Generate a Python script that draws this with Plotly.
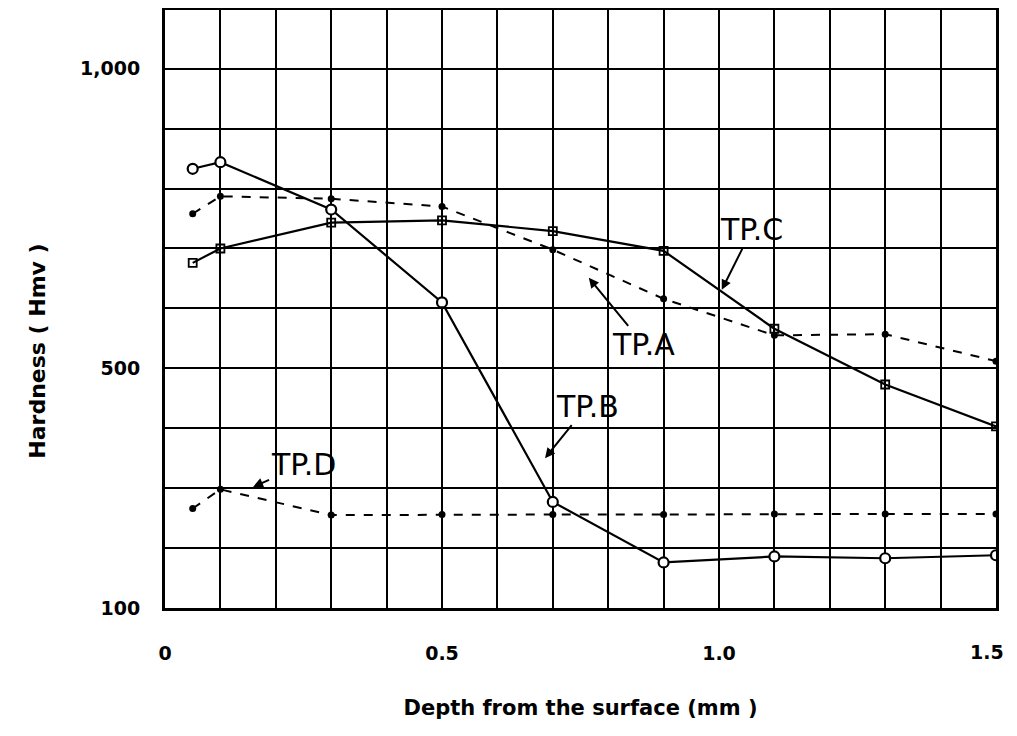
import plotly.graph_objects as go

depth = [0.05, 0.1, 0.3, 0.5, 0.7, 0.9, 1.1, 1.3, 1.5]
tp_a = [758, 787, 783, 770, 698, 616, 555, 557, 512]
tp_b = [833, 844, 765, 610, 277, 176, 186, 183, 188]
tp_c = [676, 700, 743, 747, 729, 696, 566, 473, 403]
tp_d = [266, 298, 255, 256, 256, 256, 257, 257, 257]

x_tickvals = [0, 0.5, 1.0, 1.5]
x_ticktext = ["0", "0.5", "1.0", "1.5"]
y_tickvals = [100, 500, 1000]
y_ticktext = ["100", "500", "1,000"]

FONT = "DejaVu Sans"

fig = go.Figure()

fig.add_trace(go.Scatter(x=depth, y=tp_a, mode="lines+markers", name="TP.A",
                         line=dict(color="black", width=2, dash="dash"),
                         marker=dict(symbol="circle", size=7, color="black")))
fig.add_trace(go.Scatter(x=depth, y=tp_d, mode="lines+markers", name="TP.D",
                         line=dict(color="black", width=2, dash="dash"),
                         marker=dict(symbol="circle", size=7, color="black")))
fig.add_trace(go.Scatter(x=depth, y=tp_c, mode="lines+markers", name="TP.C",
                         line=dict(color="black", width=2.2),
                         marker=dict(symbol="square-open", size=8, color="black",
                                     line=dict(width=1.8, color="black"))))
fig.add_trace(go.Scatter(x=depth, y=tp_b, mode="lines+markers", name="TP.B",
                         line=dict(color="black", width=2.2),
                         marker=dict(symbol="circle", size=10, color="white",
                                     line=dict(width=2.2, color="black"))))

labels = [
    ("TP.C", 1.005, 631, 30, -60),
    ("TP.A", 0.765, 651, 55, 67),
    ("TP.B", 0.686, 350, 42, -52),
    ("TP.D", 0.159, 302, 50, -22),
]
for text, x, y, ax, ay in labels:
    fig.add_annotation(x=x, y=y, text=text, ax=ax, ay=ay, showarrow=True,
                       arrowhead=2, arrowsize=1, arrowwidth=2, arrowcolor="black",
                       font=dict(family=FONT, size=30, color="black"))

# y-axis title (placed as annotation to match its lower position)
fig.add_annotation(text="Hardness ( Hmv )", xref="paper", yref="paper",
                   x=-0.153, y=0.43, textangle=-90, showarrow=False,
                   xanchor="center", yanchor="middle",
                   font=dict(family=FONT, size=22, weight="bold", color="black"))

# last x tick label drawn as an annotation, nudged left to stay inside the page
x_ticklabels = x_ticktext[:-1] + [""]
fig.add_annotation(text=x_ticktext[-1], x=x_tickvals[-1], xref="x",
                   y=0, yref="paper", yanchor="middle", yshift=-44, xshift=-9,
                   showarrow=False,
                   font=dict(family=FONT, size=19, weight="bold", color="black"))

fig.update_layout(
    width=1001, height=720,
    margin=dict(l=157, r=13, t=2, b=120),
    paper_bgcolor="white", plot_bgcolor="white",
    showlegend=False,
    font=dict(family=FONT, color="black"),
)
fig.update_xaxes(
    range=[0, 1.5], tickvals=x_tickvals, ticktext=x_ticklabels,
    ticks="", ticklabelstandoff=26, automargin=False, ticklabeloverflow="allow",
    tickfont=dict(family=FONT, size=19, weight="bold"),
    showgrid=True, gridcolor="black", gridwidth=1.8,
    minor=dict(dtick=0.1, tick0=0, showgrid=True, gridcolor="black", gridwidth=1.8),
    showline=True, linecolor="black", linewidth=3, mirror=True,
    zeroline=False,
    title=dict(text="Depth from the surface (mm )", standoff=38,
               font=dict(family=FONT, size=21, weight="bold")),
)
fig.update_yaxes(
    range=[100, 1098], tickvals=y_tickvals, ticktext=y_ticktext,
    ticks="", ticklabelstandoff=18, automargin=False, ticklabeloverflow="allow",
    tickfont=dict(family=FONT, size=19, weight="bold"),
    showgrid=True, gridcolor="black", gridwidth=1.8,
    minor=dict(dtick=100, tick0=0, showgrid=True, gridcolor="black", gridwidth=1.8),
    showline=True, linecolor="black", linewidth=3, mirror=True,
    zeroline=False,
)

fig.write_html("out.html")
